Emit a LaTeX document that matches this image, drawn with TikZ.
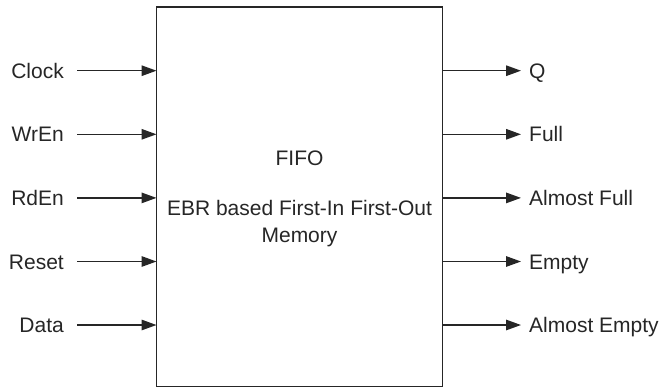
\documentclass[tikz,border=0pt]{standalone}
\usepackage{fontspec}
\setmainfont{Liberation Sans}
\usetikzlibrary{arrows.meta}
\begin{document}
\begin{tikzpicture}[x=1pt,y=-1pt,
  every node/.style={font=\fontsize{21}{27}\selectfont, text=black!85},
  lbl/.style={inner sep=0pt, text height=15pt, text depth=0pt},
  arr/.style={line width=1.4pt, draw=black!85, -{Triangle[length=15pt,width=10.5pt]}},
  blk/.style={draw=black!85, line width=1.4pt, fill=white}]
\useasboundingbox (0,0) rectangle (660,388);
\draw[blk] (156.5,7) rectangle (442.5,386.5);
\coordinate (box) at (299.5,196.5);
\coordinate (bw) at (156.5,196.5);
\coordinate (be) at (442.5,196.5);
\node (fifo) at (299.5,158) {FIFO};
\node[align=center, inner sep=0pt] (desc) at (299.5,224) {EBR based First-In First-Out\\Memory};
% inputs
\node[lbl, anchor=east] (clk) at (64,70.7) {Clock};
\node[lbl, anchor=east] (wr) at (64,134.3) {WrEn};
\node[lbl, anchor=east] (rd) at (64,197.9) {RdEn};
\node[lbl, anchor=east] (rst) at (64,261.5) {Reset};
\node[lbl, anchor=east] (dat) at (64,325) {Data};
\foreach \n in {clk,wr,rd,rst,dat}
  \draw[arr] ([xshift=13pt]\n.east) -- (\n.east -| bw);
% outputs
\node[lbl, anchor=west] (q) at (529,70.7) {Q};
\node[lbl, anchor=west] (full) at (529,134.3) {Full};
\node[lbl, anchor=west] (afull) at (529,197.9) {Almost Full};
\node[lbl, anchor=west] (empty) at (529,261.5) {Empty};
\node[lbl, anchor=west] (aempty) at (529,325) {Almost Empty};
\foreach \n in {q,full,afull,empty,aempty}
  \draw[arr] (\n.west -| be) -- ([xshift=-8pt]\n.west);
\end{tikzpicture}
\end{document}
